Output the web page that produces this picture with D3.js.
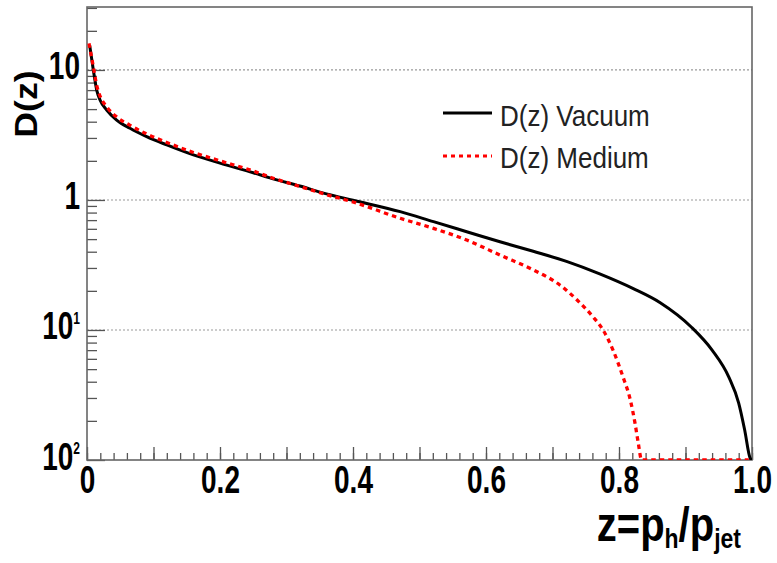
<!DOCTYPE html>
<html>
<head>
<meta charset="utf-8">
<script src="https://cdn.jsdelivr.net/npm/d3@7"></script>
<style>
  html, body { margin: 0; padding: 0; background: #fff; }
  svg { display: block; font-family: "Liberation Sans", Arial, sans-serif; }
</style>
</head>
<body>
<svg id="chart" width="777" height="563"></svg>
<script>
// ---- data ----
const vacuumZ = [0.004, 0.0095, 0.0146, 0.0196, 0.0296, 0.0446, 0.0647, 0.0897, 0.12, 0.16, 0.2, 0.25, 0.275, 0.32, 0.36, 0.4, 0.471, 0.521, 0.571, 0.621, 0.671, 0.721, 0.771, 0.8215, 0.862, 0.909, 0.94, 0.965, 0.98, 0.989, 0.997, 1.0];
const vacuumD = [15.5, 10, 7.0, 5.88, 4.92, 4.12, 3.56, 3.07, 2.65, 2.22, 1.92, 1.62, 1.48, 1.28, 1.115, 0.995, 0.813, 0.681, 0.570, 0.477, 0.403, 0.337, 0.270, 0.208, 0.162, 0.105, 0.070, 0.0436, 0.0274, 0.017, 0.0104, 0.01];

const mediumZ = [0.003, 0.0095, 0.0146, 0.0196, 0.0296, 0.0446, 0.0647, 0.0897, 0.12, 0.16, 0.2, 0.25, 0.275, 0.32, 0.36, 0.4, 0.471, 0.521, 0.571, 0.621, 0.671, 0.711, 0.737, 0.761, 0.776, 0.791, 0.806, 0.817, 0.824, 0.829, 0.834, 0.9, 0.995];
const mediumD = [16, 10.6, 7.6, 6.3, 5.2, 4.35, 3.75, 3.22, 2.77, 2.32, 2.0, 1.67, 1.5, 1.27, 1.1, 0.965, 0.723, 0.605, 0.492, 0.377, 0.290, 0.222, 0.17, 0.126, 0.1, 0.07, 0.0436, 0.029, 0.0193, 0.0135, 0.01, 0.01, 0.01];

const seriesNames = ["D(z) Vacuum", "D(z) Medium"];
const xTickLabelValues = [0, 0.2, 0.4, 0.6, 0.8, 1.0];
const xTickLabels = ["0", "0.2", "0.4", "0.6", "0.8", "1.0"];
const yTickValues = [0.01, 0.1, 1, 10];
const yTickBase = ["10", "10", "1", "10"];
const yTickSup = ["2", "1", "", ""];
const yGridValues = [0.1, 1, 10];
const xTitleParts = ["z=p", "h", "/p", "jet"];
const yTitle = "D(z)";

// ---- layout ----
const svg = d3.select("#chart");
const L = 87, R = 752, T = 7, B = 460;
const x = d3.scaleLinear().domain([0, 1]).range([L, R]);
const y = d3.scaleLog().domain([0.01, 30.5]).range([B, T]);

const axisColor = "#666";

// grid lines (dotted)
svg.append("g").selectAll("line").data(yGridValues).join("line")
  .attr("x1", L).attr("x2", R)
  .attr("y1", d => y(d)).attr("y2", d => y(d))
  .attr("stroke", "#999").attr("stroke-width", 1.2)
  .attr("stroke-dasharray", "2,2");

// x axis ticks
const xMinor = d3.range(0, 1.0001, 0.02);
const xMajor = d3.range(0, 1.0001, 0.1);
function styleAxis(g) {
  g.select(".domain").remove();
  g.selectAll(".tick line").attr("stroke", "#555").attr("stroke-width", 1.3);
}
svg.append("g").attr("transform", `translate(0,${B})`)
  .call(d3.axisBottom(x).tickValues(xMinor).tickSize(-7).tickFormat(""))
  .call(styleAxis);
svg.append("g").attr("transform", `translate(0,${B})`)
  .call(d3.axisBottom(x).tickValues(xMajor).tickSize(-13).tickFormat(""))
  .call(styleAxis);

// x labels
const xl = svg.append("g").attr("transform", `translate(0,${B})`)
  .call(d3.axisBottom(x).tickValues(xTickLabelValues).tickSize(0)
    .tickFormat((d, i) => xTickLabels[i]));
xl.select(".domain").remove();
xl.selectAll(".tick text")
  .attr("y", 0).attr("dy", null)
  .attr("transform", "translate(0,33) scale(1,1.36)")
  .attr("font-size", 28).attr("font-weight", "bold")
  .attr("font-family", "'Liberation Sans', Arial, sans-serif")
  .attr("fill", "#000");

// y axis ticks
const yMinor = [];
[-2, -1, 0, 1].forEach(e => { for (let k = 2; k <= 9; k++) { const v = k * Math.pow(10, e); if (v <= 30.5) yMinor.push(v); } });
svg.append("g").attr("transform", `translate(${L},0)`)
  .call(d3.axisLeft(y).tickValues(yMinor).tickSize(-10).tickFormat(""))
  .call(styleAxis);
svg.append("g").attr("transform", `translate(${L},0)`)
  .call(d3.axisLeft(y).tickValues(yTickValues).tickSize(-18).tickFormat(""))
  .call(styleAxis);

// y labels
const yl = svg.append("g").selectAll("g").data(yTickValues).join("g")
  .attr("transform", d => `translate(80,${y(d) + 9.5}) scale(1,1.36)`);
const ylt = yl.append("text")
  .attr("text-anchor", "end")
  .attr("font-size", 28).attr("font-weight", "bold").attr("fill", "#000");
ylt.append("tspan").text((d, i) => yTickBase[i]);
ylt.append("tspan").attr("font-size", 12).attr("dy", -11.5)
  .text((d, i) => yTickSup[i]);

// frame
svg.append("rect").attr("x", L).attr("y", T).attr("width", R - L).attr("height", B - T)
  .attr("fill", "none").attr("stroke", axisColor).attr("stroke-width", 1.6);

// clip
svg.append("clipPath").attr("id", "clip").append("rect")
  .attr("x", L).attr("y", T - 2).attr("width", R - L).attr("height", B - T + 2);

const line = d3.line().x(d => x(d[0])).y(d => y(d[1])).curve(d3.curveMonotoneX);
const vac = vacuumZ.map((z, i) => [z, vacuumD[i]]);
const med = mediumZ.map((z, i) => [z, mediumD[i]]);

const plot = svg.append("g").attr("clip-path", "url(#clip)");
plot.append("path").datum(vac).attr("d", line)
  .attr("fill", "none").attr("stroke", "#000").attr("stroke-width", 3);
plot.append("path").datum(med).attr("d", line)
  .attr("fill", "none").attr("stroke", "#f00").attr("stroke-width", 3.3)
  .attr("stroke-dasharray", "4.5,4");

// legend
const leg = svg.append("g");
leg.append("line").attr("x1", 443).attr("x2", 492).attr("y1", 113).attr("y2", 113)
  .attr("stroke", "#000").attr("stroke-width", 3);
leg.append("line").attr("x1", 443).attr("x2", 492).attr("y1", 156).attr("y2", 156)
  .attr("stroke", "#f00").attr("stroke-width", 3).attr("stroke-dasharray", "4,4");
[126, 168].forEach((by, i) => {
  leg.append("text").attr("transform", `translate(500,${by}) scale(1,1.1)`)
    .attr("font-size", 26).attr("fill", "#222").text(seriesNames[i]);
});

// x title
const xt = svg.append("text").attr("transform", "translate(741,541) scale(1,1.2)")
  .attr("text-anchor", "end").attr("font-size", 40).attr("font-weight", "bold").attr("fill", "#000");
xt.append("tspan").text(xTitleParts[0]);
xt.append("tspan").attr("font-size", 23).attr("dy", 6).text(xTitleParts[1]);
xt.append("tspan").attr("dy", -6).text(xTitleParts[2]);
xt.append("tspan").attr("font-size", 23).attr("dy", 6).text(xTitleParts[3]);

// y title
svg.append("text").attr("transform", "translate(37,104) rotate(-90) scale(1.15,1)")
  .attr("text-anchor", "middle").attr("font-size", 31).attr("font-weight", "bold")
  .attr("fill", "#000").text(yTitle);
</script>
</body>
</html>
